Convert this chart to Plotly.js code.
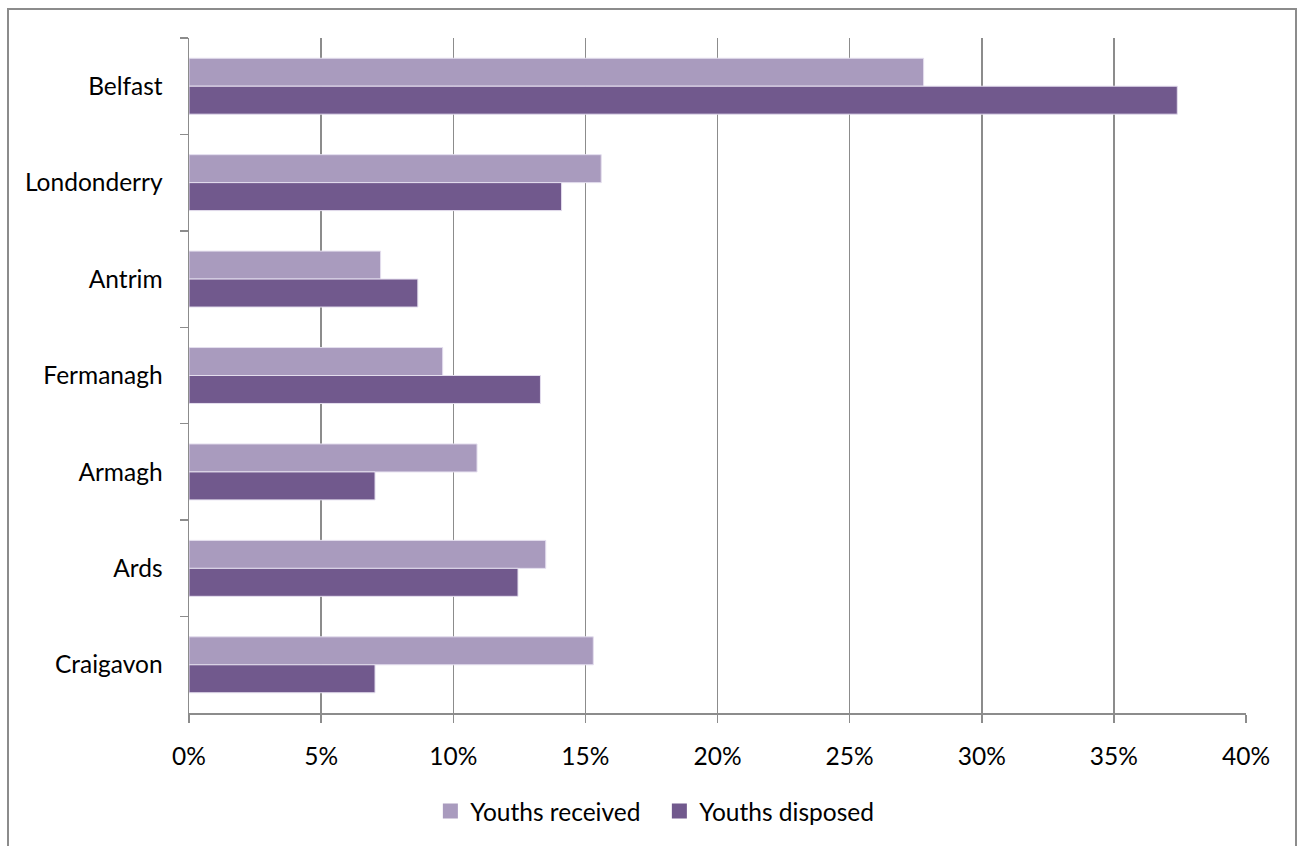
<!DOCTYPE html>
<html>
<head>
<meta charset="utf-8">
<script src="https://cdn.plot.ly/plotly-3.0.1.min.js"></script>
<style>
  html, body { margin: 0; padding: 0; background: #ffffff; }
  #wrap { position: relative; width: 1302px; height: 846px; overflow: hidden; }
  #chart { position: absolute; left: 0; top: 0; width: 1302px; height: 846px; }
  #frame { position: absolute; left: 7px; top: 8px; width: 1290px; height: 860px;
           border: 2px solid #8c8c8c; pointer-events: none; box-sizing: border-box; }
</style>
</head>
<body>
<div id="wrap">
  <div id="chart"></div>
  <div id="frame"></div>
</div>
<script>
const categories = ["Belfast", "Londonderry", "Antrim", "Fermanagh", "Armagh", "Ards", "Craigavon"];
const youthsReceived = [0.278, 0.156, 0.0725, 0.096, 0.109, 0.135, 0.153];
const youthsDisposed = [0.374, 0.141, 0.0866, 0.133, 0.0704, 0.1245, 0.0704];
const seriesNames = ["Youths received", "Youths disposed"];
const seriesColors = ["#A99BBE", "#71598D"];
const tickValues = [0, 0.05, 0.10, 0.15, 0.20, 0.25, 0.30, 0.35, 0.40];
const tickLabels = ["0%", "5%", "10%", "15%", "20%", "25%", "30%", "35%", "40%"];

const FONT = "Lato, 'Open Sans', sans-serif";
const FS = 24.5;
const AXIS = "#8c8c8c";

const traces = [
  {
    type: "bar", orientation: "h", name: seriesNames[0], showlegend: false,
    y: categories, x: youthsReceived,
    marker: { color: seriesColors[0], line: { color: "#E4DEEE", width: 1 } }
  },
  {
    type: "bar", orientation: "h", name: seriesNames[1], showlegend: false,
    y: categories, x: youthsDisposed,
    marker: { color: seriesColors[1], line: { color: "#E4DEEE", width: 1 } }
  },
  // legend entries only (square keys like the reference)
  {
    type: "scatter", mode: "markers", name: seriesNames[0],
    x: [null], y: [null],
    marker: { symbol: "square", size: 15, color: seriesColors[0] }
  },
  {
    type: "scatter", mode: "markers", name: seriesNames[1],
    x: [null], y: [null],
    marker: { symbol: "square", size: 15, color: seriesColors[1] }
  }
];

const layout = {
  width: 1302, height: 846,
  paper_bgcolor: "rgba(0,0,0,0)", plot_bgcolor: "rgba(0,0,0,0)",
  margin: { l: 189, r: 56, t: 38, b: 127 },
  barmode: "group",
  bargap: 0.42, bargroupgap: 0,
  font: { family: FONT, size: FS, color: "#000000" },
  xaxis: {
    range: [0, 0.4],
    tickvals: tickValues, ticktext: tickLabels,
    showgrid: true, gridcolor: AXIS, gridwidth: 1.5,
    showline: true, linecolor: AXIS, linewidth: 1.5,
    ticks: "outside", ticklen: 8, tickcolor: AXIS, tickwidth: 1.5,
    ticklabelstandoff: 13,
    zeroline: false,
    tickfont: { family: FONT, size: FS, color: "#000000" },
    fixedrange: true
  },
  yaxis: {
    type: "category",
    categoryorder: "array", categoryarray: categories,
    autorange: "reversed",
    tickson: "boundaries",
    showgrid: false,
    showline: true, linecolor: AXIS, linewidth: 1.5,
    ticks: "outside", ticklen: 8, tickcolor: AXIS, tickwidth: 1.5,
    ticklabelstandoff: 20,
    tickfont: { family: FONT, size: FS, color: "#000000" },
    fixedrange: true
  },
  showlegend: true,
  legend: {
    orientation: "h",
    x: 0.445, xanchor: "center",
    y: -0.112, yanchor: "top",
    font: { family: FONT, size: FS, color: "#000000" },
    itemwidth: 30,
    entrywidth: 184,
    traceorder: "normal",
    itemsizing: "trace"
  },
  annotations: [
    {
      xref: "paper", yref: "paper",
      x: 0.065, y: 1.052, xanchor: "center", yanchor: "bottom",
      text: "<b><i>y</i></b>", showarrow: false,
      font: { family: FONT, size: 26, color: "#1F1FA0" }
    }
  ]
};

Plotly.newPlot("chart", traces, layout, { displayModeBar: false, staticPlot: true });
</script>
</body>
</html>
